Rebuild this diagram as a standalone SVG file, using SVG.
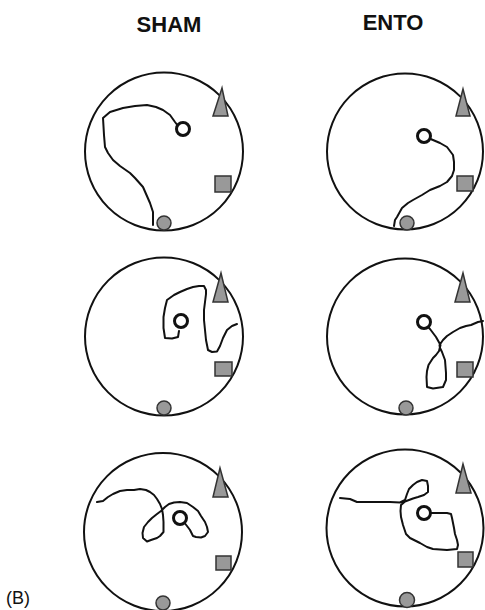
<svg xmlns="http://www.w3.org/2000/svg" width="485" height="610" viewBox="0 0 485 610">
<style>
.arena{fill:none;stroke:#111;stroke-width:2}
.trk{fill:none;stroke:#111;stroke-width:2;stroke-linejoin:round;stroke-linecap:round}
.plat{fill:#fff;stroke:#111;stroke-width:3}
.cue{fill:#999;stroke:#333;stroke-width:1.5}
.ttl{font-family:"Liberation Sans",Arial,sans-serif;font-weight:bold;font-size:22px;fill:#111;text-anchor:middle}
.lbl{font-family:"Liberation Sans",Arial,sans-serif;font-size:18px;fill:#111}
</style>
<rect width="485" height="610" fill="#fff"/>
<text class="ttl" x="169" y="32">SHAM</text>
<text class="ttl" x="393" y="30">ENTO</text>
<text class="lbl" x="6" y="604">(B)</text>

<g id="sham1">
<circle class="arena" cx="164" cy="151.5" r="79"/>
<polygon class="cue" points="222,88 213,116 228,116"/>
<rect class="cue" x="215" y="176" width="16" height="16"/>
<circle class="cue" cx="164" cy="223" r="7"/>
<path class="trk" d="M153,225 L153,212 150,203 143,187 135,178 130,173 120,166 113,160 108,153 105,147 104,135 103,118 110,112 123,108 135,106 147,105 156,107 163,110 170,115 175,122 178,126"/>
<circle class="plat" cx="183" cy="129" r="6.5"/>
</g>

<g id="ento1">
<circle class="arena" cx="405" cy="151.5" r="78"/>
<polygon class="cue" points="463,89 456,116 470,116"/>
<rect class="cue" x="457" y="176" width="16" height="15"/>
<circle class="cue" cx="407" cy="223" r="7"/>
<path class="trk" d="M394,226 L395,220 397,217 402,208 408,203 413,200 422,195 430,190 440,186 447,182 452,176 454,170 454,162 453,155 447,147 440,143 433,140 428,138"/>
<circle class="plat" cx="424" cy="136" r="6.5"/>
</g>

<g id="sham2">
<circle class="arena" cx="164" cy="336.5" r="79"/>
<polygon class="cue" points="221,273 213,302 228,302"/>
<rect class="cue" x="215" y="362" width="17" height="14"/>
<circle class="cue" cx="164" cy="408" r="7"/>
<path class="trk" d="M179,331 L178,337 172,338.5 165,338 163.5,328 163.5,317 165,308 167,300 174,295 180,292 187,289 193,287 199,286 204,286 206,290 206,294 205,302 204,310 204,320 205,330 206,340 208,350 212,352 217,351.5 220,346 223,338 227,330 232,326 237,324"/>
<circle class="plat" cx="181" cy="321" r="6.5"/>
</g>

<g id="ento2">
<circle class="arena" cx="405" cy="336.5" r="78"/>
<polygon class="cue" points="463,273 455,302 470,302"/>
<rect class="cue" x="457" y="362" width="16" height="15"/>
<circle class="cue" cx="406" cy="408" r="7"/>
<path class="trk" d="M428,327 L430,329 436,337 440.5,345 439,351 436,355 433,358 428.5,365 427,371 426.5,377 427,387 433,388.5 443,387 446,380 446,373 445,360 442,352 440,348 439.5,345 443,340 447,336 453,332 460,328 466,326 471,325 478,322 483,321"/>
<circle class="plat" cx="424" cy="322" r="6.5"/>
</g>

<g id="sham3">
<circle class="arena" cx="163" cy="532" r="79"/>
<polygon class="cue" points="220,468 213,497 228,497"/>
<rect class="cue" x="216" y="556" width="15" height="14"/>
<circle class="cue" cx="163" cy="603" r="7"/>
<path class="trk" d="M97,502 L103,501 108,497 113,494 120,491 127,490 134,490 140,489 146,490 150,492 154,495 157,499 160,504 162,509 163,515 163.5,522 163.5,532 160,536 157,538 151,540 147,541.5 143,538 142.5,533 144,527 148,522 152,518 157,514 161,511 165,507 169,504 174,502.5 180,502 187,503 193,507 198,511 201,516 205,522 207,527 208,532 205,536 201,537.5 196,537 193,536 191,532 190,530 187,526 183,521"/>
<circle class="plat" cx="180" cy="518" r="6.5"/>
</g>

<g id="ento3">
<circle class="arena" cx="405" cy="528" r="78.5"/>
<polygon class="cue" points="463,464 456,493 471,493"/>
<rect class="cue" x="458" y="552" width="15" height="15"/>
<circle class="cue" cx="407" cy="600" r="7.5"/>
<path class="trk" d="M340,498 L350,499 357,502 365,502 373,502 382,502 390,502 400,502.5 405,500 407,494 409,489 413,485 417,482 422,480 427,481 428,486 428,492 424,495 418,497 413,498.5 405,501.5 401,505 400.5,511 401,517 403,525 406,534 410,538 414,540 420,543 427,547 433,549 440,549.5 447,550 452,549.5 457,549 458,545 457,540 455,534 454,528 453,523 452,518 451,514 447,513 442,513 436,513 431,513"/>
<circle class="plat" cx="424" cy="513" r="6.5"/>
</g>
</svg>
